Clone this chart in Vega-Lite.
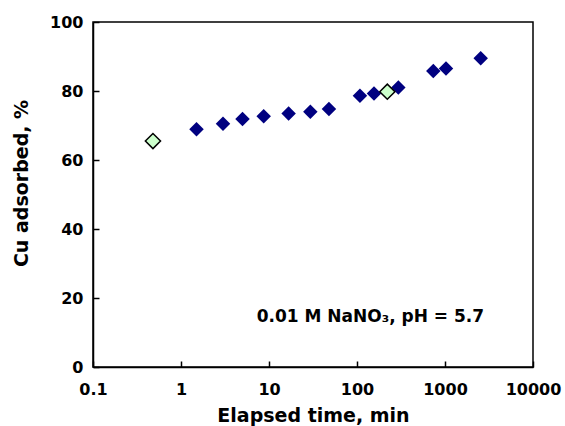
{
  "$schema": "https://vega.github.io/schema/vega-lite/v6.json",
  "width": 440,
  "height": 345,
  "autosize": "none",
  "padding": {"left": 93, "top": 22, "right": 32, "bottom": 59},
  "background": "white",
  "config": {
    "font": "DejaVu Sans",
    "view": {"stroke": "black", "strokeWidth": 1.5},
    "axis": {
      "domainColor": "black",
      "domainWidth": 1.5,
      "tickColor": "black",
      "tickWidth": 1.5,
      "tickSize": -6,
      "grid": false,
      "labelFont": "DejaVu Sans",
      "labelFontWeight": "bold",
      "labelFontSize": 16,
      "labelColor": "black",
      "titleFont": "DejaVu Sans",
      "titleFontWeight": "bold",
      "titleFontSize": 19,
      "titleColor": "black"
    }
  },
  "datasets": {
    "blue": [
      {"t": 1.5, "cu": 68.9},
      {"t": 3.0, "cu": 70.5},
      {"t": 5.0, "cu": 71.9},
      {"t": 8.7, "cu": 72.7},
      {"t": 16.7, "cu": 73.5},
      {"t": 29.5, "cu": 74.0},
      {"t": 48, "cu": 74.8},
      {"t": 108, "cu": 78.6},
      {"t": 156, "cu": 79.3},
      {"t": 295, "cu": 81.0},
      {"t": 736, "cu": 85.8},
      {"t": 1026, "cu": 86.5},
      {"t": 2546, "cu": 89.5}
    ],
    "green": [
      {"t": 0.48, "cu": 65.5},
      {"t": 221, "cu": 79.8}
    ],
    "note": [
      {"t": 142, "cu": 13.1, "label": "0.01 M NaNO₃, pH = 5.7"}
    ]
  },
  "layer": [
    {
      "data": {"name": "blue"},
      "mark": {"type": "point", "shape": "diamond", "filled": true, "size": 210, "color": "#000080", "opacity": 1},
      "encoding": {
        "x": {
          "field": "t", "type": "quantitative",
          "scale": {"type": "log", "domain": [0.1, 10000], "nice": false},
          "axis": {"values": [0.1, 1, 10, 100, 1000, 10000], "format": "~r", "labelPadding": 20, "title": "Elapsed time, min", "titlePadding": 9, "labelFlush": false}
        },
        "y": {
          "field": "cu", "type": "quantitative",
          "scale": {"domain": [0, 100], "nice": false},
          "axis": {"values": [0, 20, 40, 60, 80, 100], "labelPadding": 16, "title": "Cu adsorbed, %", "titlePadding": 18, "titleY": 161}
        }
      }
    },
    {
      "data": {"name": "green"},
      "mark": {"type": "point", "shape": "diamond", "filled": true, "size": 230, "fill": "#ccffcc", "stroke": "black", "strokeWidth": 1.5, "opacity": 1},
      "encoding": {
        "x": {"field": "t", "type": "quantitative"},
        "y": {"field": "cu", "type": "quantitative"}
      }
    },
    {
      "data": {"name": "note"},
      "mark": {"type": "text", "font": "DejaVu Sans", "fontWeight": "bold", "fontSize": 17, "align": "center", "baseline": "alphabetic", "color": "black"},
      "encoding": {
        "x": {"field": "t", "type": "quantitative"},
        "y": {"field": "cu", "type": "quantitative"},
        "text": {"field": "label"}
      }
    }
  ]
}
